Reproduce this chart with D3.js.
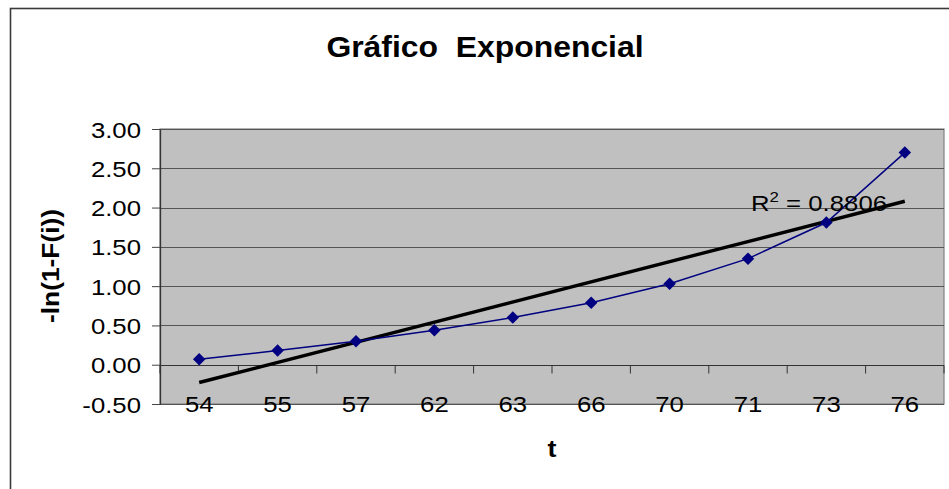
<!DOCTYPE html>
<html>
<head>
<meta charset="utf-8">
<script src="https://cdn.jsdelivr.net/npm/d3@7"></script>
<style>
  html, body { margin: 0; padding: 0; background: #fff; }
  svg { display: block; font-family: "Liberation Sans", Arial, sans-serif; }
</style>
</head>
<body>
<svg id="chart" width="949" height="489"></svg>
<script>
// Failure times and the linearised exponential plotting positions
const categories = ["54", "55", "57", "62", "63", "66", "70", "71", "73", "76"];
const values = [0.07, 0.18, 0.30, 0.44, 0.60, 0.79, 1.03, 1.35, 1.81, 2.70];
const yTicks = [-0.5, 0, 0.5, 1, 1.5, 2, 2.5, 3];
const titleText = "Gráfico  Exponencial";
const xTitle = "t";
const yTitle = "-ln(1-F(i))";
const r2Value = "0.8806";

const svg = d3.select("#chart");
const plot = { left: 160, right: 944, top: 129, bottom: 404 };
const SX = 1.12; // horizontal stretch of the chart lettering

const x = d3.scaleBand().domain(categories).range([plot.left, plot.right]);
const y = d3.scaleLinear().domain([-0.5, 3]).range([plot.bottom, plot.top]);
const cx = c => x(c) + x.bandwidth() / 2;

// outer chart frame
svg.append("rect")
  .attr("x", 10.5).attr("y", 8.5)
  .attr("width", 960).attr("height", 500)
  .attr("fill", "#fff").attr("stroke", "#3a3a3a").attr("stroke-width", 1.6);

// plot background
svg.append("rect")
  .attr("x", plot.left).attr("y", plot.top)
  .attr("width", plot.right - plot.left).attr("height", plot.bottom - plot.top)
  .attr("fill", "#c0c0c0").attr("stroke", "#808080").attr("stroke-width", 1.2);

// horizontal gridlines
svg.append("g").selectAll("line").data(yTicks).join("line")
  .attr("x1", plot.left).attr("x2", plot.right)
  .attr("y1", d => Math.round(y(d)) + 0.5).attr("y2", d => Math.round(y(d)) + 0.5)
  .attr("stroke", "#555").attr("stroke-width", 1);

// y axis
const yAxis = svg.append("g")
  .attr("transform", `translate(${plot.left},0)`)
  .call(d3.axisLeft(y).tickValues(yTicks).tickSize(8).tickSizeOuter(0)
    .tickFormat(d => d.toFixed(2)));
yAxis.select(".domain").attr("stroke", "#333").attr("stroke-width", 1.3);
yAxis.selectAll(".tick line").attr("stroke", "#444");
yAxis.selectAll(".tick text")
  .attr("x", null).attr("dy", null)
  .attr("font-size", 23).attr("fill", "#000")
  .attr("text-anchor", "end")
  .attr("transform", `translate(-19,8) scale(${SX},1)`);

// category axis drawn along y = 0, ticks at category boundaries
const y0 = Math.round(y(0)) + 0.5;
svg.append("line")
  .attr("x1", plot.left).attr("x2", plot.right)
  .attr("y1", y0).attr("y2", y0)
  .attr("stroke", "#333").attr("stroke-width", 1.2);
const bounds = categories.map(c => x(c)).concat([x.range()[1]]);
svg.append("g").selectAll("line").data(bounds).join("line")
  .attr("x1", d => d).attr("x2", d => d)
  .attr("y1", y0).attr("y2", y0 + 8)
  .attr("stroke", "#333").attr("stroke-width", 1);
svg.append("g").selectAll("text").data(categories).join("text")
  .attr("transform", d => `translate(${cx(d)},${plot.bottom + 8}) scale(${SX},1)`)
  .attr("text-anchor", "middle")
  .attr("font-size", 23).attr("fill", "#000")
  .text(d => d);

// linear trend of the plotted values against category position
const n = values.length;
const idx = d3.range(1, n + 1);
const mx = d3.mean(idx), my = d3.mean(values);
const slope = d3.sum(idx, (v, i) => (v - mx) * (values[i] - my)) / d3.sum(idx, v => (v - mx) ** 2);
const intercept = my - slope * mx;
svg.append("line")
  .attr("x1", cx(categories[0])).attr("y1", y(intercept + slope * 1))
  .attr("x2", cx(categories[n - 1])).attr("y2", y(intercept + slope * n))
  .attr("stroke", "#000").attr("stroke-width", 3.4).attr("stroke-linecap", "butt");

// data series
const line = d3.line().x((d, i) => cx(categories[i])).y(d => y(d));
svg.append("path").datum(values)
  .attr("d", line).attr("fill", "none")
  .attr("stroke", "#000080").attr("stroke-width", 1.5);
svg.append("g").selectAll("path").data(values).join("path")
  .attr("d", d3.symbol().type(d3.symbolSquare).size(78))
  .attr("transform", (d, i) => `translate(${cx(categories[i])},${y(d)}) rotate(45)`)
  .attr("fill", "#000080");

// R squared label
const r2 = svg.append("text")
  .attr("transform", `translate(751,211) scale(${SX},1)`)
  .attr("font-size", 23).attr("fill", "#000");
r2.append("tspan").text("R");
r2.append("tspan").attr("font-size", 15).attr("dy", -9).text("2");
r2.append("tspan").attr("dy", 9).text(" = " + r2Value);

// titles
svg.append("text")
  .attr("transform", "translate(485,57) scale(1.1,1)")
  .attr("text-anchor", "middle")
  .style("white-space", "pre")
  .attr("font-size", 29).attr("font-weight", "bold")
  .text(titleText);
svg.append("text")
  .attr("transform", `translate(${(plot.left + plot.right) / 2},457) scale(${SX},1)`)
  .attr("text-anchor", "middle")
  .attr("font-size", 24).attr("font-weight", "bold")
  .text(xTitle);
svg.append("text")
  .attr("transform", `translate(59,266) rotate(-90)`)
  .attr("text-anchor", "middle")
  .attr("font-size", 23).attr("font-weight", "bold")
  .attr("textLength", 114).attr("lengthAdjust", "spacingAndGlyphs")
  .text(yTitle);
</script>
</body>
</html>
